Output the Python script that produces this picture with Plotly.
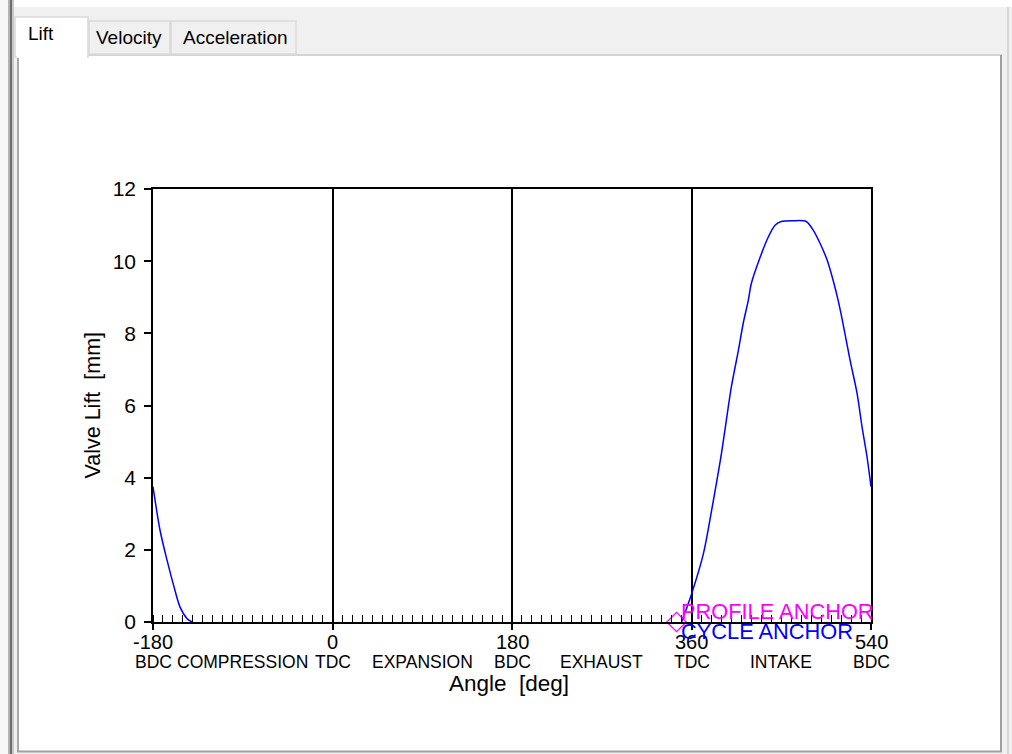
import plotly.graph_objects as go

# ---------------- data ----------------
lobe_angle = [350, 360, 372, 382, 389, 394, 400, 407, 412, 417, 420, 429, 437, 444, 450,
              462, 475, 482, 489, 496, 502, 507, 511, 519, 526, 531, 536, 540,
              547, 554, 561, 567, 574, 579]
lobe_lift = [0.0, 0.77, 1.90, 3.38, 4.49, 5.41, 6.52, 7.53, 8.30, 8.92, 9.38, 10.12, 10.67, 11.00, 11.10,
             11.12, 11.10, 10.86, 10.49, 10.03, 9.47, 8.92, 8.40, 7.26, 6.34, 5.41, 4.58, 3.75,
             2.55, 1.72, 0.98, 0.42, 0.10, 0.0]

cycle_start, cycle_end = -180, 540
major_ticks = [-180, 0, 180, 360, 540]
major_labels = ["-180", "0", "180", "360", "540"]
phase_pos = [-180, -90, 0, 90, 180, 270, 360, 450, 540]
phase_labels = ["BDC", "COMPRESSION", "TDC", "EXPANSION", "BDC", "EXHAUST", "TDC", "INTAKE", "BDC"]
y_ticks = [0, 2, 4, 6, 8, 10, 12]
anchor_angle = [345]
anchor_lift = [0]
tab_names = ["Lift", "Velocity", "Acceleration"]

# wrap the lobe into the -180..540 window
seg1_x = [a for a in lobe_angle if a <= cycle_end]
seg1_y = [v for a, v in zip(lobe_angle, lobe_lift) if a <= cycle_end]
seg2_x = [a - 720 for a in lobe_angle if a >= cycle_end]
seg2_y = [v for a, v in zip(lobe_angle, lobe_lift) if a >= cycle_end]

# ---------------- geometry helpers ----------------
WPX, HPX = 1012, 754
L, R, T, B = 153, 871, 189, 622
def px(x):
    return (x - L) / (R - L)
def py(y):
    return (B - y) / (B - T)

FONT = "Liberation Sans, Arial, Helvetica, sans-serif"

fig = go.Figure()
fig.add_trace(go.Scatter(x=seg1_x, y=seg1_y, mode="lines",
                         line=dict(color="#0000ff", width=1.5, shape="spline", smoothing=0.8),
                         showlegend=False))
fig.add_trace(go.Scatter(x=seg2_x, y=seg2_y, mode="lines",
                         line=dict(color="#0000ff", width=1.5, shape="spline", smoothing=0.8),
                         showlegend=False))
fig.add_trace(go.Scatter(x=anchor_angle, y=anchor_lift, mode="markers",
                         marker=dict(symbol="diamond-open", size=15, color="#ff00ff",
                                     line=dict(color="#ff00ff", width=1.2)),
                         showlegend=False, cliponaxis=False))

shapes = []
def rect(x0, y0, x1, y1, fill, line=None, lw=0):
    shapes.append(dict(type="rect", xref="paper", yref="paper", layer="below",
                       x0=px(x0), x1=px(x1), y0=py(y0), y1=py(y1),
                       fillcolor=fill, line=dict(color=line or fill, width=lw)))
def hline(x0, x1, y, color, w=1):
    shapes.append(dict(type="line", xref="paper", yref="paper", layer="below",
                       x0=px(x0), x1=px(x1), y0=py(y), y1=py(y), line=dict(color=color, width=w)))
def vline(x, y0, y1, color, w=1):
    shapes.append(dict(type="line", xref="paper", yref="paper", layer="below",
                       x0=px(x), x1=px(x), y0=py(y0), y1=py(y1), line=dict(color=color, width=w)))

# window chrome
rect(0, 0, WPX, 7, "#ffffff")
rect(0, 0, 8, HPX, "#f7f7f7")
rect(8, 0, 10, HPX, "#b4b4b4")
rect(10, 0, 12, HPX, "#6e6e6e")
rect(12, 0, 14, HPX, "#c8c8c8")
rect(1007, 7, 1009, HPX, "#d6d6d6")
# panel
rect(17, 55, 1002, 752, "#ffffff")
hline(17, 1002, 55, "#d4d4d4", 2)
vline(18, 55, 752, "#a8a8a8", 2)
vline(1001, 55, 752, "#a0a0a0", 2)
hline(17, 1002, 751.5, "#a0a0a0", 2)
# tabs
rect(89, 21, 170, 54, "#f0f0f0", "#d9d9d9", 1.5)
rect(171, 21, 296, 54, "#f0f0f0", "#d9d9d9", 1.5)
rect(15, 17, 88, 57, "#ffffff", "#d9d9d9", 1.5)
rect(17, 54, 87, 58, "#ffffff")

annotations = []
tab_x = [41, 129, 235]
tab_y = [33, 38, 38]
for name, tx, ty in zip(tab_names, tab_x, tab_y):
    annotations.append(dict(text=name, xref="paper", yref="paper", x=px(tx), y=py(ty),
                            showarrow=False, xanchor="center", yanchor="middle",
                            font=dict(family="Liberation Sans, Arial, sans-serif", size=19, color="#000000")))

# x tick numbers (first row)
for pos, lab in zip(major_ticks, major_labels):
    annotations.append(dict(text=lab, xref="x", yref="paper", x=pos, y=0, yshift=-20,
                            showarrow=False, xanchor="center", yanchor="middle",
                            font=dict(family=FONT, size=20, color="#000000")))
# phase labels (second row of x tick labels)
for pos, lab in zip(phase_pos, phase_labels):
    annotations.append(dict(text=lab, xref="x", yref="paper", x=pos, y=0, yshift=-40,
                            showarrow=False, xanchor="center", yanchor="middle",
                            font=dict(family=FONT, size=17.5, color="#000000")))
# axis titles
annotations.append(dict(text="Angle  [deg]", xref="paper", yref="paper", x=px(509), y=0, yshift=-61,
                        showarrow=False, xanchor="center", yanchor="middle",
                        font=dict(family=FONT, size=22.5, color="#000000")))
annotations.append(dict(text="Valve Lift  [mm]", xref="paper", yref="paper", x=px(92), y=0.5,
                        textangle=-90, showarrow=False, xanchor="center", yanchor="middle",
                        font=dict(family=FONT, size=21.5, color="#000000")))
# anchor labels
annotations.append(dict(text="PROFILE ANCHOR", xref="x", yref="y", x=350, y=0, yshift=11, xshift=-3,
                        showarrow=False, xanchor="left", yanchor="middle",
                        font=dict(family=FONT, size=21.8, color="#ff00ff")))
annotations.append(dict(text="CYCLE ANCHOR", xref="x", yref="y", x=350, y=0, yshift=-9, xshift=-3,
                        showarrow=False, xanchor="left", yanchor="middle",
                        font=dict(family=FONT, size=21.8, color="#0000ff")))

fig.update_layout(
    width=WPX, height=HPX,
    margin=dict(l=L, r=WPX - R, t=T, b=HPX - B, pad=0),
    paper_bgcolor="#f0f0f0", plot_bgcolor="#ffffff",
    shapes=shapes, annotations=annotations, showlegend=False,
    xaxis=dict(range=[cycle_start, cycle_end], tickmode="array", tickvals=major_ticks,
               showticklabels=False, ticks="outside", ticklen=6, tickwidth=1.5, tickcolor="#000",
               showline=True, linecolor="#000", linewidth=1.5, mirror=True,
               showgrid=True, gridcolor="#000", gridwidth=1.5, zeroline=False,
               minor=dict(dtick=10, tick0=0, ticks="inside", ticklen=7, tickwidth=1.2,
                          tickcolor="#000", showgrid=False),
               fixedrange=True),
    yaxis=dict(range=[0, 12], tickmode="array", tickvals=y_ticks, ticks="outside", ticklen=7,
               tickwidth=1.5, tickcolor="#000", showline=True, linecolor="#000", linewidth=1.5,
               mirror=True, showgrid=False, zeroline=False, ticklabelstandoff=4,
               tickfont=dict(family=FONT, size=21, color="#000"), fixedrange=True),
)

fig.write_html("out.html")
